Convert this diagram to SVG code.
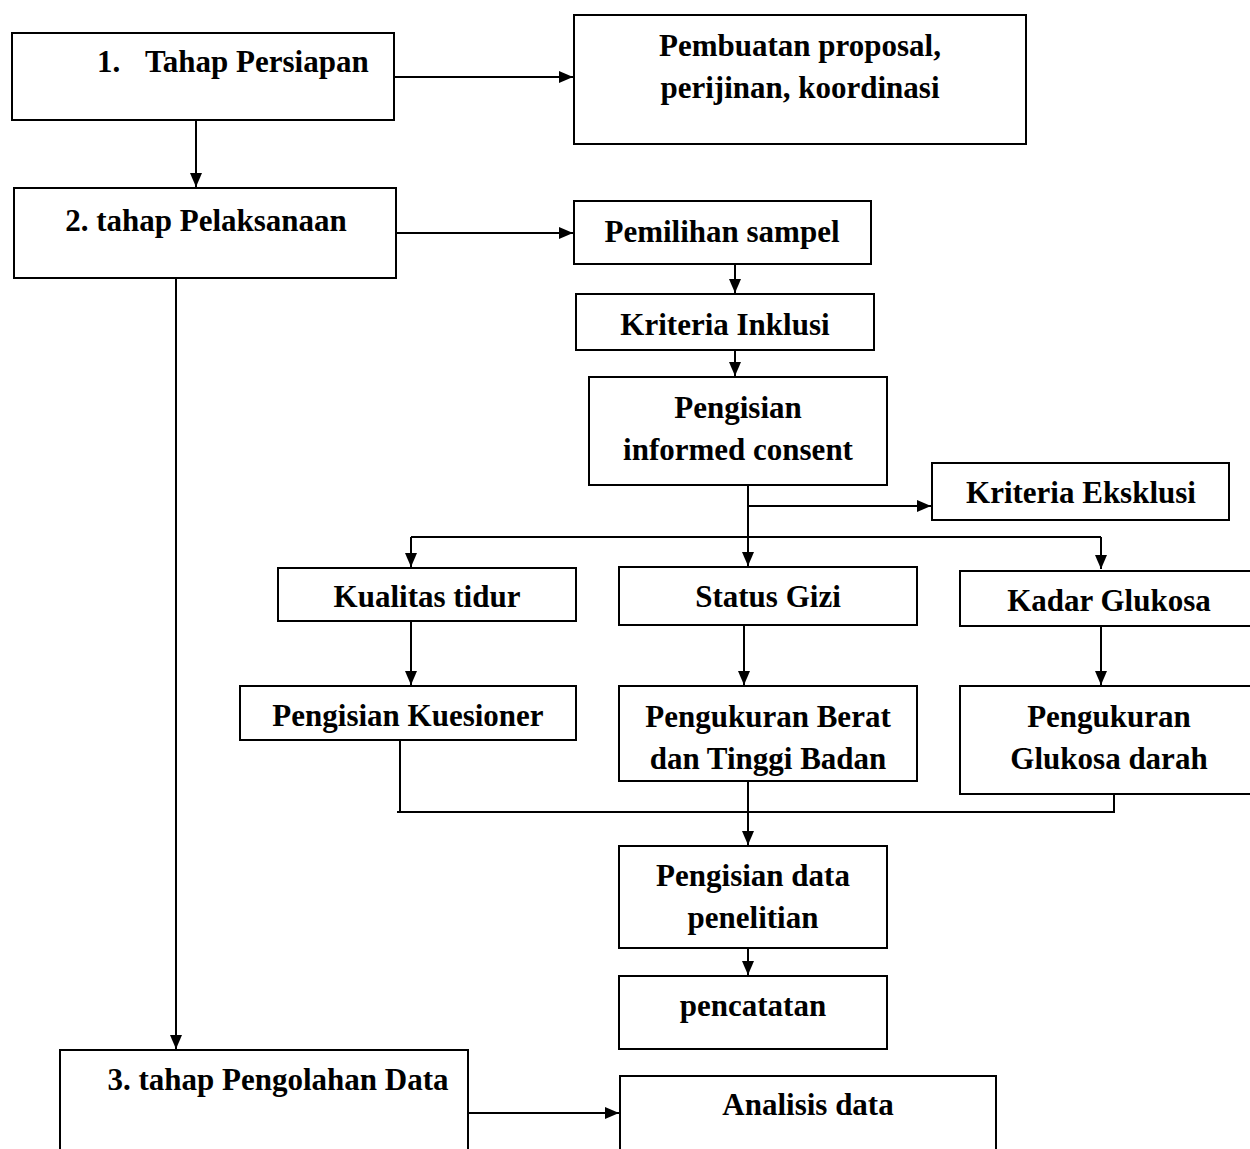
<svg xmlns="http://www.w3.org/2000/svg" width="1250" height="1149" viewBox="0 0 1250 1149">
<style>
rect{fill:#fff;stroke:#000;stroke-width:2}
text{font-family:"Liberation Serif","Times New Roman",serif;font-weight:bold;font-size:31px;fill:#000;text-anchor:middle}
.c{fill:none;stroke:#000;stroke-width:2}
</style>
<defs>
<marker id="ah" markerUnits="userSpaceOnUse" markerWidth="14" markerHeight="12" refX="14" refY="6" orient="auto">
<path d="M0,0 L14,6 L0,12 Z" fill="#000"/>
</marker>
</defs>
<rect width="1250" height="1149" style="fill:#fff;stroke:none"/>
<g id="connectors">
<path class="c" d="M394,77 H573" marker-end="url(#ah)"/>
<path class="c" d="M196,120 V187" marker-end="url(#ah)"/>
<path class="c" d="M396,233 H573" marker-end="url(#ah)"/>
<path class="c" d="M735,264 V293" marker-end="url(#ah)"/>
<path class="c" d="M735,350 V376" marker-end="url(#ah)"/>
<path class="c" d="M748,485 V566" marker-end="url(#ah)"/>
<path class="c" d="M748,506 H931" marker-end="url(#ah)"/>
<path class="c" d="M411,537 H1101"/>
<path class="c" d="M411,537 V567" marker-end="url(#ah)"/>
<path class="c" d="M1101,537 V569" marker-end="url(#ah)"/>
<path class="c" d="M411,621 V685" marker-end="url(#ah)"/>
<path class="c" d="M744,625 V685" marker-end="url(#ah)"/>
<path class="c" d="M1101,626 V685" marker-end="url(#ah)"/>
<path class="c" d="M400,740 V812 M397,812 H1114 V794"/>
<path class="c" d="M748,781 V845" marker-end="url(#ah)"/>
<path class="c" d="M748,948 V975" marker-end="url(#ah)"/>
<path class="c" d="M176,278 V1049" marker-end="url(#ah)"/>
<path class="c" d="M468,1113 H619" marker-end="url(#ah)"/>
</g>
<g id="n1"><rect x="12" y="33" width="382" height="87"/><text x="97" y="72" style="text-anchor:start">1.</text><text x="145" y="72" style="text-anchor:start">Tahap Persiapan</text></g>
<g id="n2"><rect x="574" y="15" width="452" height="129"/><text x="800" y="56">Pembuatan proposal,</text><text x="800" y="98">perijinan, koordinasi</text></g>
<g id="n3"><rect x="14" y="188" width="382" height="90"/><text x="206" y="231">2. tahap Pelaksanaan</text></g>
<g id="n4"><rect x="574" y="201" width="297" height="63"/><text x="722" y="242">Pemilihan sampel</text></g>
<g id="n5"><rect x="576" y="294" width="298" height="56"/><text x="725" y="335">Kriteria Inklusi</text></g>
<g id="n6"><rect x="589" y="377" width="298" height="108"/><text x="738" y="418">Pengisian</text><text x="738" y="460">informed consent</text></g>
<g id="n7"><rect x="932" y="463" width="297" height="57"/><text x="1081" y="503">Kriteria Eksklusi</text></g>
<g id="n8"><rect x="278" y="568" width="298" height="53"/><text x="427" y="607">Kualitas tidur</text></g>
<g id="n9"><rect x="619" y="567" width="298" height="58"/><text x="768" y="607">Status Gizi</text></g>
<g id="n10"><rect x="960" y="571" width="294" height="55"/><text x="1109" y="611">Kadar Glukosa</text></g>
<g id="n11"><rect x="240" y="686" width="336" height="54"/><text x="408" y="726">Pengisian Kuesioner</text></g>
<g id="n12"><rect x="619" y="686" width="298" height="95"/><text x="768" y="727">Pengukuran Berat</text><text x="768" y="769">dan Tinggi Badan</text></g>
<g id="n13"><rect x="960" y="686" width="294" height="108"/><text x="1109" y="727">Pengukuran</text><text x="1109" y="769">Glukosa darah</text></g>
<g id="n14"><rect x="619" y="846" width="268" height="102"/><text x="753" y="886">Pengisian data</text><text x="753" y="928">penelitian</text></g>
<g id="n15"><rect x="619" y="976" width="268" height="73"/><text x="753" y="1016">pencatatan</text></g>
<g id="n16"><rect x="60" y="1050" width="408" height="110"/><text x="278" y="1090">3. tahap Pengolahan Data</text></g>
<g id="n17"><rect x="620" y="1076" width="376" height="90"/><text x="808" y="1115">Analisis data</text></g>
</svg>
